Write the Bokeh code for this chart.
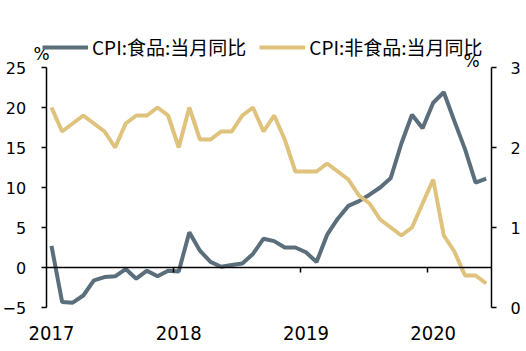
from bokeh.plotting import figure
from bokeh.models import (Range1d, LinearAxis, FixedTicker, Legend, LegendItem,
                          Label, ColumnDataSource)
from bokeh.embed import file_html
from bokeh.resources import INLINE

# ---- data ----
months = [f"{y}-{m:02d}" for y in (2017, 2018, 2019, 2020) for m in range(1, 13)][:42]
food = [2.7, -4.3, -4.4, -3.5, -1.6, -1.2, -1.1, -0.2, -1.4, -0.4, -1.1, -0.4,
        -0.5, 4.4, 2.1, 0.7, 0.1, 0.3, 0.5, 1.7, 3.6, 3.3, 2.5, 2.5,
        1.9, 0.7, 4.1, 6.1, 7.7, 8.3, 9.1, 10.0, 11.2, 15.5, 19.1, 17.4,
        20.6, 21.9, 18.3, 14.8, 10.6, 11.1]
nonfood = [2.5, 2.2, 2.3, 2.4, 2.3, 2.2, 2.0, 2.3, 2.4, 2.4, 2.5, 2.4,
           2.0, 2.5, 2.1, 2.1, 2.2, 2.2, 2.4, 2.5, 2.2, 2.4, 2.1, 1.7,
           1.7, 1.7, 1.8, 1.7, 1.6, 1.4, 1.3, 1.1, 1.0, 0.9, 1.0, 1.3,
           1.6, 0.9, 0.7, 0.4, 0.4, 0.3]
left_ticks = [-5, 0, 5, 10, 15, 20, 25]
right_ticks = [0, 1, 2, 3]
series_names = ["CPI:食品:当月同比", "CPI:非食品:当月同比"]
unit_label = "%"

idx = list(range(len(months)))
year_tick_pos = [i for i, m in enumerate(months) if m.endswith("-01")]
year_tick_txt = {i: months[i][:4] for i in year_tick_pos}
year_bounds = [i - 0.5 for i in year_tick_pos if i > 0]

src = ColumnDataSource(dict(x=idx, food=food, nonfood=nonfood))

FOOD_C = "#5a6e7b"
NONFOOD_C = "#dfc27b"
TICK_FONT = "DejaVu Sans"

# ---- geometry (pixels) ----
W, H = 526, 351
axis_left_px, axis_right_px = 45.7, 491.0
axis_top_px, axis_bottom_px = 67.0, 307.0
frame_left_px, frame_top_px, frame_bottom_px = 0.0, 0.0, float(H)

x0, x1 = idx[0] - 0.5, idx[-1] + 0.5
px_per_x = (axis_right_px - axis_left_px) / (x1 - x0)
xs = x0 - (axis_left_px - frame_left_px) / px_per_x

l0, l1 = left_ticks[0], left_ticks[-1]
r0, r1 = right_ticks[0], right_ticks[-1]
span_px = axis_bottom_px - axis_top_px
frac_top = (axis_top_px - frame_top_px) / span_px
frac_bot = (frame_bottom_px - axis_bottom_px) / span_px
ly0, ly1 = l0 - (l1 - l0) * frac_bot, l1 + (l1 - l0) * frac_top
ry0, ry1 = r0 - (r1 - r0) * frac_bot, r1 + (r1 - r0) * frac_top
px_per_l = span_px / (l1 - l0)

p = figure(width=W, height=H, output_backend="svg", toolbar_location=None,
           x_range=Range1d(xs, x1), y_range=Range1d(ly0, ly1),
           min_border_left=0, min_border_right=int(W - axis_right_px),
           min_border_top=0, min_border_bottom=0,
           outline_line_color=None,
           background_fill_color="white", border_fill_color="white")
p.xgrid.visible = False
p.ygrid.visible = False
p.extra_y_ranges = {"right": Range1d(ry0, ry1)}

# bottom axis: labels only, fixed at the bottom of the value axes
xa = p.xaxis[0]
xa.fixed_location = l0
xa.ticker = FixedTicker(ticks=year_tick_pos)
xa.major_label_overrides = year_tick_txt
xa.axis_line_color = None
xa.major_tick_line_color = None
xa.minor_tick_line_color = None
xa.major_tick_out = 0
xa.major_tick_in = 0
xa.major_label_standoff = 18
xa.major_label_text_font = "DejaVu Sans Condensed"
xa.major_label_text_font_size = "20px"
xa.major_label_text_color = "black"

# zero line with year boundary ticks
zero_axis = LinearAxis(fixed_location=0, ticker=FixedTicker(ticks=year_bounds),
                       bounds=(x0, x1),
                       major_label_text_font_size="0px", major_label_text_color=None,
                       axis_line_color="black", axis_line_width=1.5,
                       major_tick_line_color="black", major_tick_line_width=1.5,
                       major_tick_in=0, major_tick_out=5,
                       minor_tick_line_color=None)
p.add_layout(zero_axis, "below")

# left axis
ya = p.yaxis[0]
ya.fixed_location = x0
ya.bounds = (l0, l1)
ya.ticker = FixedTicker(ticks=left_ticks)
ya.axis_line_color = "black"
ya.axis_line_width = 1.5
ya.major_tick_line_color = "black"
ya.major_tick_line_width = 1.5
ya.major_tick_in = 0
ya.major_tick_out = 5
ya.minor_tick_line_color = None
ya.major_label_standoff = 15
ya.major_label_text_font = TICK_FONT
ya.major_label_text_font_size = "16px"
ya.major_label_text_color = "black"

# right axis
ra = LinearAxis(y_range_name="right", ticker=FixedTicker(ticks=right_ticks),
                bounds=(r0, r1),
                axis_line_color="black", axis_line_width=1.5,
                major_tick_line_color="black", major_tick_line_width=1.5,
                major_tick_in=0, major_tick_out=5, minor_tick_line_color=None,
                major_label_standoff=14, major_label_text_font=TICK_FONT,
                major_label_text_font_size="16px", major_label_text_color="black")
p.add_layout(ra, "right")

rf = p.line("x", "food", source=src, line_color=FOOD_C, line_width=4)
rn = p.line("x", "nonfood", source=src, line_color=NONFOOD_C, line_width=4,
            y_range_name="right")

legend = Legend(items=[LegendItem(label=series_names[0], renderers=[rf]),
                       LegendItem(label=series_names[1], renderers=[rn])],
                location=(42 - frame_left_px, frame_bottom_px - 60),
                orientation="horizontal",
                label_text_font="Noto Sans CJK SC", label_text_font_size="19px",
                label_text_color="black", label_height=20,
                glyph_width=46, glyph_height=20, label_standoff=4, spacing=13,
                padding=0, margin=0, border_line_color=None,
                background_fill_alpha=0)
p.add_layout(legend, "center")

p.add_layout(Label(x=x0 - (axis_left_px - 41) / px_per_x,
                   y=l1 + (axis_top_px - 53) / px_per_l,
                   text=unit_label, text_align="center",
                   text_baseline="middle", text_font=TICK_FONT,
                   text_font_size="17px", text_color="black"))
p.add_layout(Label(x=x1 - (axis_right_px - 471) / px_per_x,
                   y=l1 + (axis_top_px - 60) / px_per_l,
                   text=unit_label, text_align="center",
                   text_baseline="middle", text_font=TICK_FONT,
                   text_font_size="17px", text_color="black"))

open("out.html", "w").write(file_html(p, INLINE))
